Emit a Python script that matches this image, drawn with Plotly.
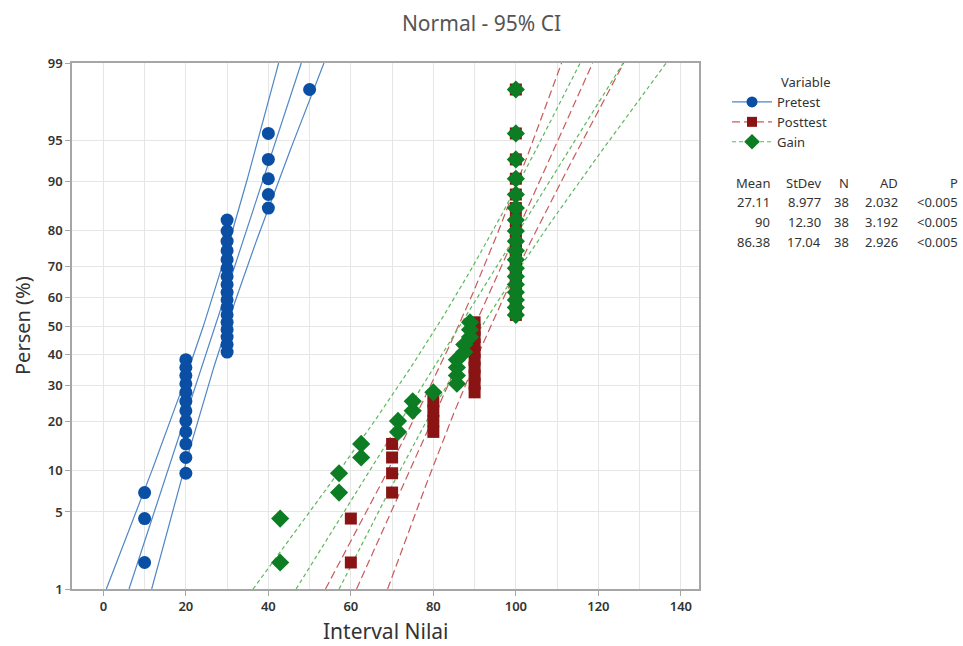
import plotly.graph_objects as go
from statistics import NormalDist, mean, stdev

# ---------------- data ----------------
variables = ["Pretest", "Posttest", "Gain"]

pretest = [10, 10, 10,
           20, 20, 20, 20, 20, 20, 20, 20, 20, 20, 20, 20,
           30, 30, 30, 30, 30, 30, 30, 30, 30, 30, 30, 30, 30, 30, 30, 30, 30,
           40, 40, 40, 40, 40,
           50]

posttest = [60, 60,
            70, 70, 70, 70,
            80, 80, 80, 80,
            90, 90, 90, 90, 90, 90, 90, 90, 90, 90,
            100, 100, 100, 100, 100, 100, 100, 100, 100, 100, 100, 100, 100, 100, 100, 100, 100, 100]

gain = [42.86, 42.86, 57.14, 57.14, 62.5, 62.5, 71.43, 71.43, 75, 75, 80,
        85.71, 85.71, 85.71, 85.71, 87.5, 87.5, 88.89, 88.89, 88.89,
        100, 100, 100, 100, 100, 100, 100, 100, 100, 100, 100, 100, 100, 100, 100, 100, 100, 100]

# statistics table (as printed)
mean_txt = ["27.11", "90", "86.38"]
stdev_txt = ["8.977", "12.30", "17.04"]
n_txt = ["38", "38", "38"]
ad_txt = ["2.032", "3.192", "2.926"]
p_txt = ["<0.005", "<0.005", "<0.005"]

pct_ticks = [1, 5, 10, 20, 30, 40, 50, 60, 70, 80, 90, 95, 99]
x_ticks = [0, 20, 40, 60, 80, 100, 120, 140]

# ---------------- styling ----------------
FONT = "Noto Sans"
marker_colors = ["#0a4fa3", "#8a1313", "#0c7d22"]
line_colors = ["#4f86c6", "#c75b5b", "#5cb85c"]
symbols = ["circle", "square", "diamond"]
sizes = [13, 12, 14]
dashes = ["solid", "8px,4px", "4px,3px"]

nd = NormalDist()
z_lo, z_hi = nd.inv_cdf(0.01), nd.inv_cdf(0.99)
zgrid = [z_lo + (z_hi - z_lo) * k / 200 for k in range(201)]

fig = go.Figure()

series = [pretest, posttest, gain]
for k, (name, vals) in enumerate(zip(variables, series)):
    data = sorted(vals)
    n = len(data)
    m, s = mean(data), stdev(data)
    fit = [m + s * z for z in zgrid]
    hw = [1.96 * s * (1.0 / n + z * z / (2.0 * n)) ** 0.5 for z in zgrid]
    lo = [f - h for f, h in zip(fit, hw)]
    hi = [f + h for f, h in zip(fit, hw)]
    for xs in (lo, fit, hi):
        fig.add_trace(go.Scatter(
            x=xs, y=zgrid, mode="lines", showlegend=False, hoverinfo="skip",
            line=dict(color=line_colors[k], width=1.2, dash=dashes[k])))

for k, (name, vals) in enumerate(zip(variables, series)):
    data = sorted(vals)
    n = len(data)
    zs = [nd.inv_cdf((i - 0.3) / (n + 0.4)) for i in range(1, n + 1)]
    fig.add_trace(go.Scatter(
        x=data, y=zs, mode="markers", name=name, showlegend=False,
        marker=dict(symbol=symbols[k], size=sizes[k], color=marker_colors[k],
                    line=dict(width=0))))

# legend-only entries (line + marker)
for k, name in enumerate(variables):
    fig.add_trace(go.Scatter(
        x=[None], y=[None], mode="lines+markers", name=name,
        marker=dict(symbol=symbols[k], size=sizes[k] - 2, color=marker_colors[k]),
        line=dict(color=line_colors[k], width=1.2, dash=dashes[k])))

tickvals = [nd.inv_cdf(p / 100) for p in pct_ticks]

fig.update_layout(
    width=963, height=646,
    margin=dict(l=72, r=264, t=63, b=57),
    paper_bgcolor="white", plot_bgcolor="white",
    font=dict(family=FONT, size=13, color="#333333"),
    title=dict(text="Normal - 95% CI", x=0.5, xref="container", xanchor="center",
               y=1 - 24 / 646, yref="container", yanchor="middle",
               font=dict(family=FONT, size=21, color="#555555")),
    showlegend=True,
    legend=dict(x=(727 - 72) / 627, xanchor="left", y=1 - (87 - 63) / 526, yanchor="top",
                font=dict(family=FONT, size=13, color="#333333"),
                itemwidth=40, tracegroupgap=0, bgcolor="rgba(0,0,0,0)"),
)

fig.update_xaxes(
    range=[-7.6, 144.4], tickvals=x_ticks, ticktext=[str(v) for v in x_ticks],
    showgrid=True, gridcolor="#e6e6e6", gridwidth=1,
    minor=dict(dtick=10, tick0=0, showgrid=True, gridcolor="#e6e6e6", gridwidth=1),
    showline=True, linecolor="#a6a6a6", linewidth=1.5, mirror=True,
    ticks="outside", ticklen=5, tickcolor="#a6a6a6",
    tickfont=dict(family=FONT, size=13, color="#333333", weight=600),
    zeroline=False, automargin=False,
)
fig.update_yaxes(
    range=[z_lo, z_hi], tickvals=tickvals, ticktext=[str(p) for p in pct_ticks],
    showgrid=True, gridcolor="#e6e6e6", gridwidth=1,
    showline=True, linecolor="#a6a6a6", linewidth=1.5, mirror=True,
    ticks="outside", ticklen=5, tickcolor="#a6a6a6",
    tickfont=dict(family=FONT, size=13, color="#333333", weight=600),
    zeroline=False, automargin=False,
)

# axis titles
fig.add_annotation(text="Interval Nilai", xref="paper", yref="paper",
                   x=0.5, y=1 - (631 - 63) / 526, xanchor="center", yanchor="middle",
                   showarrow=False, font=dict(family=FONT, size=21, color="#333333"))
fig.add_annotation(text="Persen (%)", xref="paper", yref="paper", textangle=-90,
                   x=(22 - 72) / 627, y=1 - (326 - 63) / 526, xanchor="center", yanchor="middle",
                   showarrow=False, font=dict(family=FONT, size=20, color="#333333"))

# "Variable" header and statistics table
fig.add_annotation(text="Variable", xref="paper", yref="paper",
                   x=(779 - 72) / 627, y=1 - (82 - 63) / 526, xanchor="left", yanchor="middle",
                   showarrow=False, font=dict(family=FONT, size=13, color="#333333"))

col_right = [772, 823, 851, 900, 960]
headers = ["Mean", "StDev", "N", "AD", "P"]
cols = [mean_txt, stdev_txt, n_txt, ad_txt, p_txt]
row_y = [183, 202, 222, 242]
for c, (hdr, col) in enumerate(zip(headers, cols)):
    for r, txt in enumerate([hdr] + col):
        fig.add_annotation(text=txt, xref="paper", yref="paper",
                           x=(col_right[c] - 72) / 627, y=1 - (row_y[r] - 63) / 526,
                           xanchor="right", yanchor="middle", showarrow=False,
                           font=dict(family=FONT, size=13, color="#333333"))

fig.write_html("out.html", config={"displayModeBar": False},
               post_script="document.body.style.margin='0';document.body.style.overflow='hidden';")
